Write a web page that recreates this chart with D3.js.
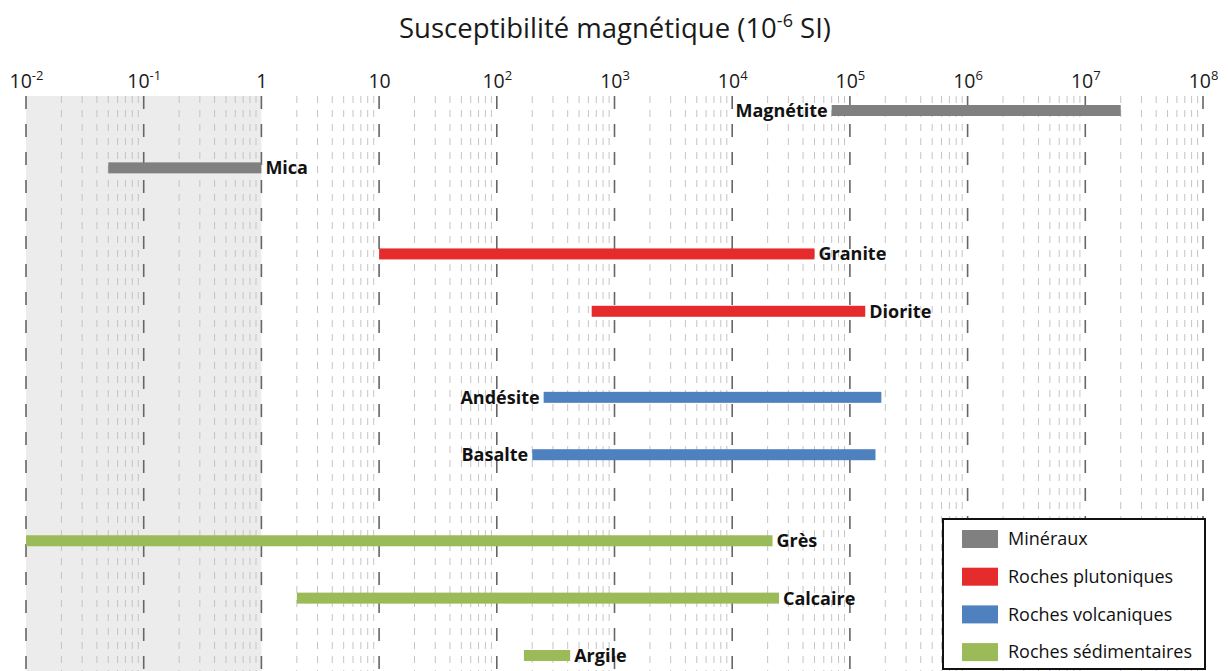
<!DOCTYPE html>
<html lang="fr">
<head>
<meta charset="utf-8">
<script src="https://cdn.jsdelivr.net/npm/d3@7"></script>
<style>
  html, body { margin: 0; padding: 0; background: #fff; }
  svg { display: block; font-family: "Open Sans", "Noto Sans", sans-serif; }
</style>
</head>
<body>
<svg id="chart" width="1228" height="671"></svg>
<script>
// Ranges of magnetic susceptibility (10^-6 SI), low and high bounds
const materials = ["Magnétite", "Mica", "Granite", "Diorite", "Andésite", "Basalte", "Grès", "Calcaire", "Argile"];
const groupOf   = ["Minéraux", "Minéraux", "Roches plutoniques", "Roches plutoniques",
                   "Roches volcaniques", "Roches volcaniques",
                   "Roches sédimentaires", "Roches sédimentaires", "Roches sédimentaires"];
const lowValues  = [7e4, 0.05, 10, 640, 250, 200, 0.01, 2, 170];
const highValues = [2e7, 1, 5e4, 1.35e5, 1.85e5, 1.65e5, 2.2e4, 2.5e4, 420];

const groups = ["Minéraux", "Roches plutoniques", "Roches volcaniques", "Roches sédimentaires"];
const groupColors = ["#808080", "#e52b2b", "#4f81bf", "#9bbb59"];

// Decade exponents for the top axis
const tickExponents = [-2, -1, 0, 1, 2, 3, 4, 5, 6, 7, 8];

// Materials whose name sits before the bar instead of after it
const labelBefore = new Set(["Magnétite", "Andésite", "Basalte"]);

const svg = d3.select("#chart");
const W = 1228, H = 671;
const plotTop = 96;

const x = d3.scaleLog().domain([1e-2, 1e8]).range([26, 1203]);
// Slot index: two slots per material plus one spacer slot between groups
const slot = i => 2 * i + groups.indexOf(groupOf[i]);
const y = d3.scaleLinear().domain([0, 19]).range([110.5, 655.5]);
const color = d3.scaleOrdinal().domain(groups).range(groupColors);

// Shaded weakly-magnetic zone (below 1)
svg.append("rect")
  .attr("x", x(1e-2)).attr("y", plotTop)
  .attr("width", x(1) - x(1e-2)).attr("height", H - plotTop)
  .attr("fill", "#ececec");

// Minor grid lines (2..9 within each decade)
const minors = [];
tickExponents.slice(0, -1).forEach(e => {
  for (let k = 2; k <= 9; k++) minors.push(k * Math.pow(10, e));
});
svg.append("g").selectAll("line").data(minors).join("line")
  .attr("x1", d => x(d)).attr("x2", d => x(d))
  .attr("y1", plotTop).attr("y2", H)
  .attr("stroke", "#c4c4c4").attr("stroke-width", 1)
  .attr("stroke-dasharray", "7,7");

// Major grid lines at each decade
const majors = tickExponents.map(e => Math.pow(10, e));
svg.append("g").selectAll("line").data(majors).join("line")
  .attr("x1", d => x(d)).attr("x2", d => x(d))
  .attr("y1", plotTop).attr("y2", H)
  .attr("stroke", "#666").attr("stroke-width", 1.6)
  .attr("stroke-dasharray", "13,15");

// Top axis with power-of-ten labels
const axis = svg.append("g")
  .attr("transform", `translate(0,${plotTop})`)
  .call(d3.axisTop(x).tickValues(majors).tickSize(0).tickFormat(""));
axis.select(".domain").remove();
axis.selectAll(".tick").each(function(d, i) {
  const e = tickExponents[i];
  const t = d3.select(this).select("text")
    .attr("y", -8).attr("dy", 0)
    .attr("fill", "#1a1a1a")
    .attr("font-size", 19.5)
    .attr("font-family", "'Open Sans', sans-serif")
    .attr("text-anchor", "middle");
  if (e === 0) { t.text("1"); }
  else if (e === 1) { t.text("10"); }
  else {
    t.append("tspan").text("10");
    t.append("tspan").attr("dy", -8).attr("font-size", 13).text(String(e));
  }
});

// Range bars
const barH = 11;
svg.append("g").selectAll("rect").data(materials).join("rect")
  .attr("x", (d, i) => x(lowValues[i]))
  .attr("y", (d, i) => y(slot(i)) - barH / 2)
  .attr("width", (d, i) => x(highValues[i]) - x(lowValues[i]))
  .attr("height", barH)
  .attr("fill", (d, i) => color(groupOf[i]));

// Material names
svg.append("g").selectAll("text").data(materials).join("text")
  .attr("x", (d, i) => labelBefore.has(d) ? x(lowValues[i]) - 4 : x(highValues[i]) + 4)
  .attr("y", (d, i) => y(slot(i)))
  .attr("dy", "0.36em")
  .attr("text-anchor", d => labelBefore.has(d) ? "end" : "start")
  .attr("font-size", 18)
  .attr("font-weight", 700)
  .attr("fill", "#111")
  .text(d => d);

// Title
const title = svg.append("text")
  .attr("x", 615).attr("y", 38)
  .attr("text-anchor", "middle")
  .attr("font-size", 27.5)
  .attr("fill", "#1a1a1a");
title.append("tspan").text("Susceptibilité magnétique (10");
title.append("tspan").attr("dy", -11).attr("font-size", 18).text("-6");
title.append("tspan").attr("dy", 11).text(" SI)");

// Legend
const lg = svg.append("g").attr("transform", "translate(943,519)");
lg.append("rect")
  .attr("width", 262).attr("height", 150)
  .attr("fill", "#fff").attr("stroke", "#111").attr("stroke-width", 2);
const item = lg.selectAll("g.item").data(groups).join("g")
  .attr("class", "item")
  .attr("transform", (d, i) => `translate(19,${20 + i * 37.7})`);
item.append("rect")
  .attr("y", -9).attr("width", 36).attr("height", 18)
  .attr("fill", d => color(d));
item.append("text")
  .attr("x", 46).attr("dy", "0.35em")
  .attr("font-size", 18)
  .attr("fill", "#111")
  .text(d => d);
</script>
</body>
</html>
